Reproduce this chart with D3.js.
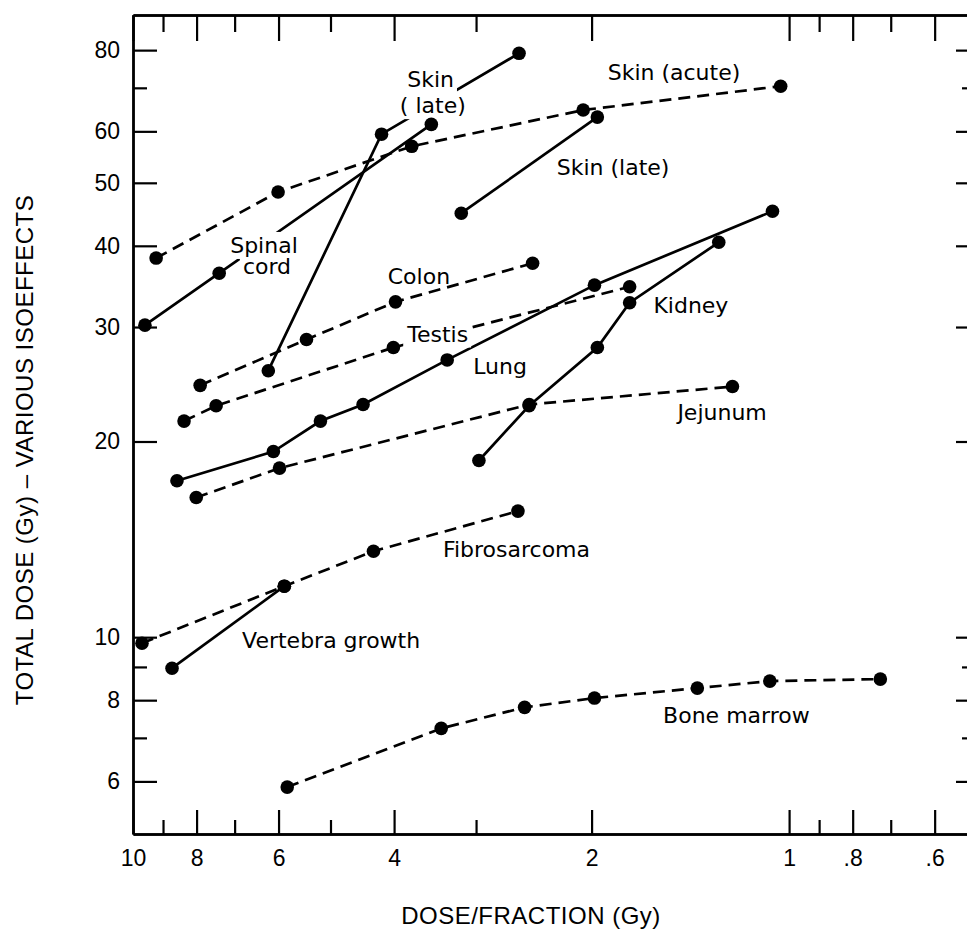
<!DOCTYPE html>
<html>
<head>
<meta charset="utf-8">
<script src="https://cdnjs.cloudflare.com/ajax/libs/d3/7.8.5/d3.min.js"></script>
<style>
  body { margin: 0; background: #fff; }
  svg { display: block; }
</style>
</head>
<body>
<svg width="967" height="931"></svg>
<script>
// isoeffect curves: total dose vs dose per fraction, both log

var skinAcuteDose = [9.22, 6.01, 3.76, 2.06, 1.03];
var skinAcuteTotal = [38.3, 48.4, 56.9, 64.7, 70.4];

var skinLateDose = [6.22, 4.18, 2.58];
var skinLateTotal = [25.7, 59.4, 79.1];

var skinLate2Dose = [3.16, 1.96];
var skinLate2Total = [44.9, 63.1];

var spinalDose = [9.59, 7.39, 3.51];
var spinalTotal = [30.2, 36.3, 61.5];

var colonDose = [7.90, 5.44, 3.98, 2.46];
var colonTotal = [24.4, 28.7, 32.8, 37.6];

var testisDose = [8.36, 7.47, 4.01, 1.75];
var testisTotal = [21.5, 22.7, 27.9, 34.6];

var lungDose = [8.57, 6.11, 5.18, 4.46, 3.32, 1.98, 1.06];
var lungTotal = [17.4, 19.3, 21.5, 22.8, 26.7, 34.8, 45.2];

var kidneyDose = [2.97, 2.49, 1.96, 1.75, 1.28];
var kidneyTotal = [18.7, 22.7, 27.9, 32.7, 40.5];

var jejunumDose = [8.01, 5.98, 2.49, 1.22];
var jejunumTotal = [16.4, 18.2, 22.8, 24.3];

var fibroDose = [9.69, 5.88, 4.30, 2.59];
var fibroTotal = [9.79, 11.98, 13.56, 15.63];

var vertebraDose = [8.72, 5.88];
var vertebraTotal = [8.96, 11.98];

var marrowDose = [5.82, 3.39, 2.53, 1.98, 1.38, 1.07, 0.726];
var marrowTotal = [5.88, 7.24, 7.80, 8.06, 8.35, 8.56, 8.62];

var xMajor = [10, 8, 6, 4, 2, 1, 0.8, 0.6];
var xMajorLabels = ["10", "8", "6", "4", "2", "1", ".8", ".6"];
var xMinor = [9, 7, 5, 3, 0.9, 0.7];
var yMajor = [80, 60, 50, 40, 30, 20, 10, 8, 6];
var yMinor = [70, 9, 7];

// label text, anchor (dose, total)
var labelText = ["Skin", "( late)", "Skin (acute)", "Skin (late)", "Spinal", "cord", "Colon",
                 "Testis", "Lung", "Kidney", "Jejunum", "Fibrosarcoma", "Vertebra growth", "Bone marrow"];
var labelDose = [3.82, 3.92, 1.89, 2.26, 7.11, 6.80, 4.09, 3.82, 3.03, 1.61, 1.48, 3.37, 6.82, 1.556];
var labelTotal = [70.2, 64.0, 71.9, 51.4, 39.0, 36.2, 35.0, 28.5, 25.4, 31.5, 21.6, 13.3, 9.62, 7.37];
var labelCutout = [true, true, false, false, true, true, false, true, false, false, false, false, false, false];

var series = [
  {dose: skinAcuteDose, total: skinAcuteTotal, dashed: true},
  {dose: skinLateDose, total: skinLateTotal, dashed: false},
  {dose: skinLate2Dose, total: skinLate2Total, dashed: false},
  {dose: spinalDose, total: spinalTotal, dashed: false},
  {dose: colonDose, total: colonTotal, dashed: true},
  {dose: testisDose, total: testisTotal, dashed: true},
  {dose: lungDose, total: lungTotal, dashed: false},
  {dose: kidneyDose, total: kidneyTotal, dashed: false},
  {dose: jejunumDose, total: jejunumTotal, dashed: true},
  {dose: fibroDose, total: fibroTotal, dashed: true},
  {dose: vertebraDose, total: vertebraTotal, dashed: false},
  {dose: marrowDose, total: marrowTotal, dashed: true}
];

var plotLeft = 133, plotRight = 970, plotTop = 15, plotBottom = 834,
    svg = d3.select('svg');

var x = d3.scaleLog()
    .domain([10, 0.53])
    .range([plotLeft, plotRight]);

var y = d3.scaleLog()
    .domain([4.98, 90.6])
    .range([plotBottom, plotTop]);

var tickFont = '"Liberation Sans", Arial, sans-serif';
var labelFont = '"DejaVu Sans", sans-serif';

function styleAxis(g) {
  g.select(".domain").attr("stroke", "#000").attr("stroke-width", 2.4);
  g.selectAll(".tick line").attr("stroke", "#000").attr("stroke-width", 2.2);
  g.selectAll(".tick text")
    .attr("fill", "#000")
    .style("font-family", tickFont)
    .style("font-size", "23px");
}

// bottom
var gBottom = svg.append("g").attr("transform", "translate(0," + plotBottom + ")");
gBottom.call(d3.axisBottom(x).tickValues(xMajor).tickSize(-24).tickSizeOuter(0).tickPadding(16)
    .tickFormat(function(d, i) { return xMajorLabels[i]; }));
styleAxis(gBottom);
var gBottomMinor = svg.append("g").attr("transform", "translate(0," + plotBottom + ")");
gBottomMinor.call(d3.axisBottom(x).tickValues(xMinor).tickSize(-14).tickSizeOuter(0).tickFormat(""));
styleAxis(gBottomMinor);

// top
var gTop = svg.append("g").attr("transform", "translate(0," + plotTop + ")");
gTop.call(d3.axisTop(x).tickValues(xMajor).tickSize(-26).tickSizeOuter(0).tickFormat(""));
styleAxis(gTop);
var gTopMinor = svg.append("g").attr("transform", "translate(0," + plotTop + ")");
gTopMinor.call(d3.axisTop(x).tickValues(xMinor).tickSize(-17).tickSizeOuter(0).tickFormat(""));
styleAxis(gTopMinor);

// left
var gLeft = svg.append("g").attr("transform", "translate(" + plotLeft + ",0)");
gLeft.call(d3.axisLeft(y).tickValues(yMajor).tickSize(-24).tickSizeOuter(0).tickPadding(13)
    .tickFormat(d3.format("d")));
styleAxis(gLeft);
var gLeftMinor = svg.append("g").attr("transform", "translate(" + plotLeft + ",0)");
gLeftMinor.call(d3.axisLeft(y).tickValues(yMinor).tickSize(-14).tickSizeOuter(0).tickFormat(""));
styleAxis(gLeftMinor);

// right
var gRight = svg.append("g").attr("transform", "translate(" + plotRight + ",0)");
gRight.call(d3.axisRight(y).tickValues(yMajor).tickSize(-14).tickSizeOuter(0).tickFormat(""));
styleAxis(gRight);
var gRightMinor = svg.append("g").attr("transform", "translate(" + plotRight + ",0)");
gRightMinor.call(d3.axisRight(y).tickValues(yMinor).tickSize(-8).tickSizeOuter(0).tickFormat(""));
styleAxis(gRightMinor);

// curves
var line = d3.line()
    .x(function(d) { return x(d[0]); })
    .y(function(d) { return y(d[1]); });

var gCurves = svg.append("g");
series.forEach(function(s) {
  var pts = d3.zip(s.dose, s.total);
  gCurves.append("path")
    .datum(pts)
    .attr("d", line)
    .attr("fill", "none")
    .attr("stroke", "#000")
    .attr("stroke-width", 2.7)
    .attr("stroke-dasharray", s.dashed ? "12,7" : null);
});

// labels; white boxes first so some labels break the line under them
var gCut = svg.append("g");
var gLabels = svg.append("g");
labelText.forEach(function(t, i) {
  var txt = gLabels.append("text")
    .attr("x", x(labelDose[i]))
    .attr("y", y(labelTotal[i]))
    .style("font-family", labelFont)
    .style("font-size", "22px")
    .attr("fill", "#000")
    .text(t);
  if (labelCutout[i]) {
    var bb = txt.node().getBBox();
    gCut.append("rect")
      .attr("x", bb.x - 3).attr("y", bb.y - 1)
      .attr("width", bb.width + 6).attr("height", bb.height + 2)
      .attr("fill", "#fff");
  }
});

// dots
var gDots = svg.append("g");
series.forEach(function(s) {
  gDots.selectAll(null)
    .data(d3.zip(s.dose, s.total))
    .enter()
    .append("circle")
    .attr("cx", function(d) { return x(d[0]); })
    .attr("cy", function(d) { return y(d[1]); })
    .attr("r", 6.8)
    .attr("fill", "#000");
});

// axis titles
svg.append("text")
    .attr("x", 531)
    .attr("y", 924)
    .attr("text-anchor", "middle")
    .style("font-family", tickFont)
    .style("font-size", "24px")
    .style("letter-spacing", "0.5px")
    .text("DOSE/FRACTION (Gy)");

svg.append("text")
    .attr("transform", "translate(33,450) rotate(-90)")
    .attr("text-anchor", "middle")
    .style("font-family", tickFont)
    .style("font-size", "24px")
    .style("letter-spacing", "0.5px")
    .text("TOTAL DOSE (Gy)  \u2013  VARIOUS ISOEFFECTS");
</script>
</body>
</html>
